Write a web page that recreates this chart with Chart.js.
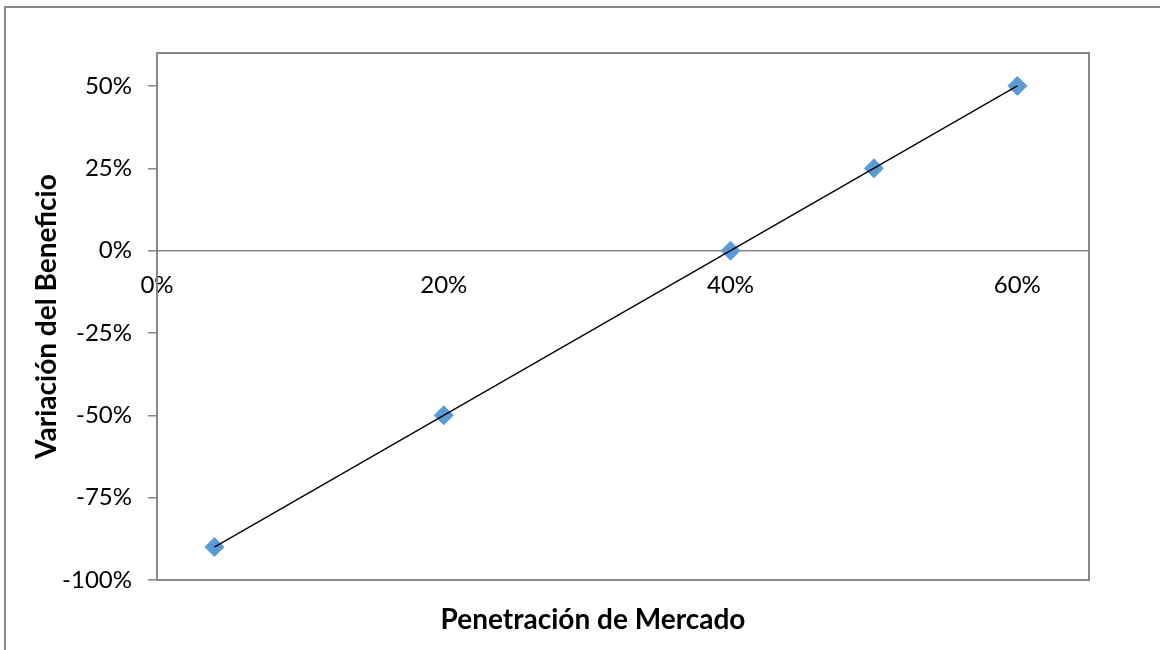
<!DOCTYPE html>
<html lang="es">
<head>
<meta charset="utf-8">
<title>Variación del Beneficio vs Penetración de Mercado</title>
<script src="https://cdn.jsdelivr.net/npm/chart.js@4/dist/chart.umd.min.js"></script>
<style>
  html, body { margin: 0; padding: 0; background: #ffffff; }
  #wrap { width: 1160px; height: 650px; position: relative; }
</style>
</head>
<body>
<div id="wrap"><canvas id="chart" width="1160" height="650"></canvas></div>
<script>
// Observed points: market penetration vs. profit change
const penetracion = [0.04, 0.20, 0.40, 0.50, 0.60];
const variacion   = [-0.90, -0.50, 0.00, 0.25, 0.50];

// Axis tick values
const xTicks = [0, 0.20, 0.40, 0.60];
const yTicks = [-1.00, -0.75, -0.50, -0.25, 0, 0.25, 0.50];

const xTitle = 'Penetración de Mercado';
const yTitle = 'Variación del Beneficio';

// Least-squares linear trend over the observed points
function linearTrend(xs, ys) {
  const n = xs.length;
  const mx = xs.reduce((a, b) => a + b, 0) / n;
  const my = ys.reduce((a, b) => a + b, 0) / n;
  let sxy = 0, sxx = 0;
  for (let i = 0; i < n; i++) {
    sxy += (xs[i] - mx) * (ys[i] - my);
    sxx += (xs[i] - mx) * (xs[i] - mx);
  }
  const m = sxy / sxx;
  const b = my - m * mx;
  const x0 = Math.min(...xs), x1 = Math.max(...xs);
  return [{ x: x0, y: m * x0 + b }, { x: x1, y: m * x1 + b }];
}

const FONT = 'Lato, "Open Sans", sans-serif';
const AXIS_GREY = '#878787';
const pct = v => Math.round(v * 100) + '%';

// Frame around the whole figure, box round the plot, and axis titles
const decorations = {
  id: 'decorations',
  beforeDraw(chart) {
    const ctx = chart.ctx;
    ctx.save();
    ctx.fillStyle = '#ffffff';
    ctx.fillRect(0, 0, chart.width, chart.height);
    ctx.strokeStyle = AXIS_GREY;
    ctx.lineWidth = 2;
    ctx.strokeRect(5, 7, chart.width + 20, chart.height + 20);
    ctx.restore();
  },
  afterDraw(chart) {
    const ctx = chart.ctx;
    const a = chart.chartArea;
    ctx.save();
    ctx.strokeStyle = AXIS_GREY;
    ctx.lineWidth = 2;
    ctx.strokeRect(a.left, a.top, a.right - a.left, a.bottom - a.top);

    ctx.fillStyle = '#000000';
    ctx.font = 'bold 28px ' + FONT;
    ctx.textAlign = 'center';
    ctx.textBaseline = 'middle';
    ctx.fillText(xTitle, 593, 620);

    ctx.translate(47, (a.top + a.bottom) / 2);
    ctx.rotate(-Math.PI / 2);
    ctx.fillText(yTitle, 0, 0);
    ctx.restore();
  }
};

new Chart(document.getElementById('chart'), {
  type: 'scatter',
  data: {
    datasets: [
      {
        type: 'line',
        label: 'Tendencia',
        data: linearTrend(penetracion, variacion),
        borderColor: '#000000',
        borderWidth: 1.3,
        pointRadius: 0,
        fill: false,
        order: 0
      },
      {
        label: 'Variación',
        data: penetracion.map((x, i) => ({ x: x, y: variacion[i] })),
        pointStyle: 'rectRot',
        pointRadius: 9.5,
        pointHoverRadius: 9.5,
        backgroundColor: '#5B9BD5',
        borderColor: '#5B9BD5',
        borderWidth: 1,
        order: 1
      }
    ]
  },
  options: {
    responsive: false,
    animation: false,
    devicePixelRatio: 1,
    layout: { padding: { left: 0, top: 53, right: 71, bottom: 70 } },
    plugins: {
      legend: { display: false },
      tooltip: { enabled: false }
    },
    scales: {
      x: {
        type: 'linear',
        min: 0,
        max: 0.65,
        position: { y: 0 },
        afterBuildTicks: s => { s.ticks = xTicks.map(v => ({ value: v })); },
        grid: { display: false, drawTicks: true, tickLength: 8 },
        border: { display: true, color: AXIS_GREY, width: 1.5 },
        ticks: {
          color: '#000000',
          font: { family: FONT, size: 24 },
          padding: 12,
          maxRotation: 0,
          autoSkip: false,
          callback: v => pct(v)
        }
      },
      y: {
        type: 'linear',
        min: -1,
        max: 0.6,
        position: 'left',
        afterBuildTicks: s => { s.ticks = yTicks.map(v => ({ value: v })); },
        afterFit: s => { s.width = 157; },
        grid: {
          display: true,
          drawOnChartArea: false,
          drawTicks: true,
          tickLength: 9,
          color: AXIS_GREY,
          lineWidth: 1.5
        },
        border: { display: true, color: AXIS_GREY, width: 2 },
        ticks: {
          color: '#000000',
          font: { family: FONT, size: 24 },
          padding: 16,
          autoSkip: false,
          callback: v => pct(v)
        }
      }
    }
  },
  plugins: [decorations]
});
</script>
</body>
</html>
